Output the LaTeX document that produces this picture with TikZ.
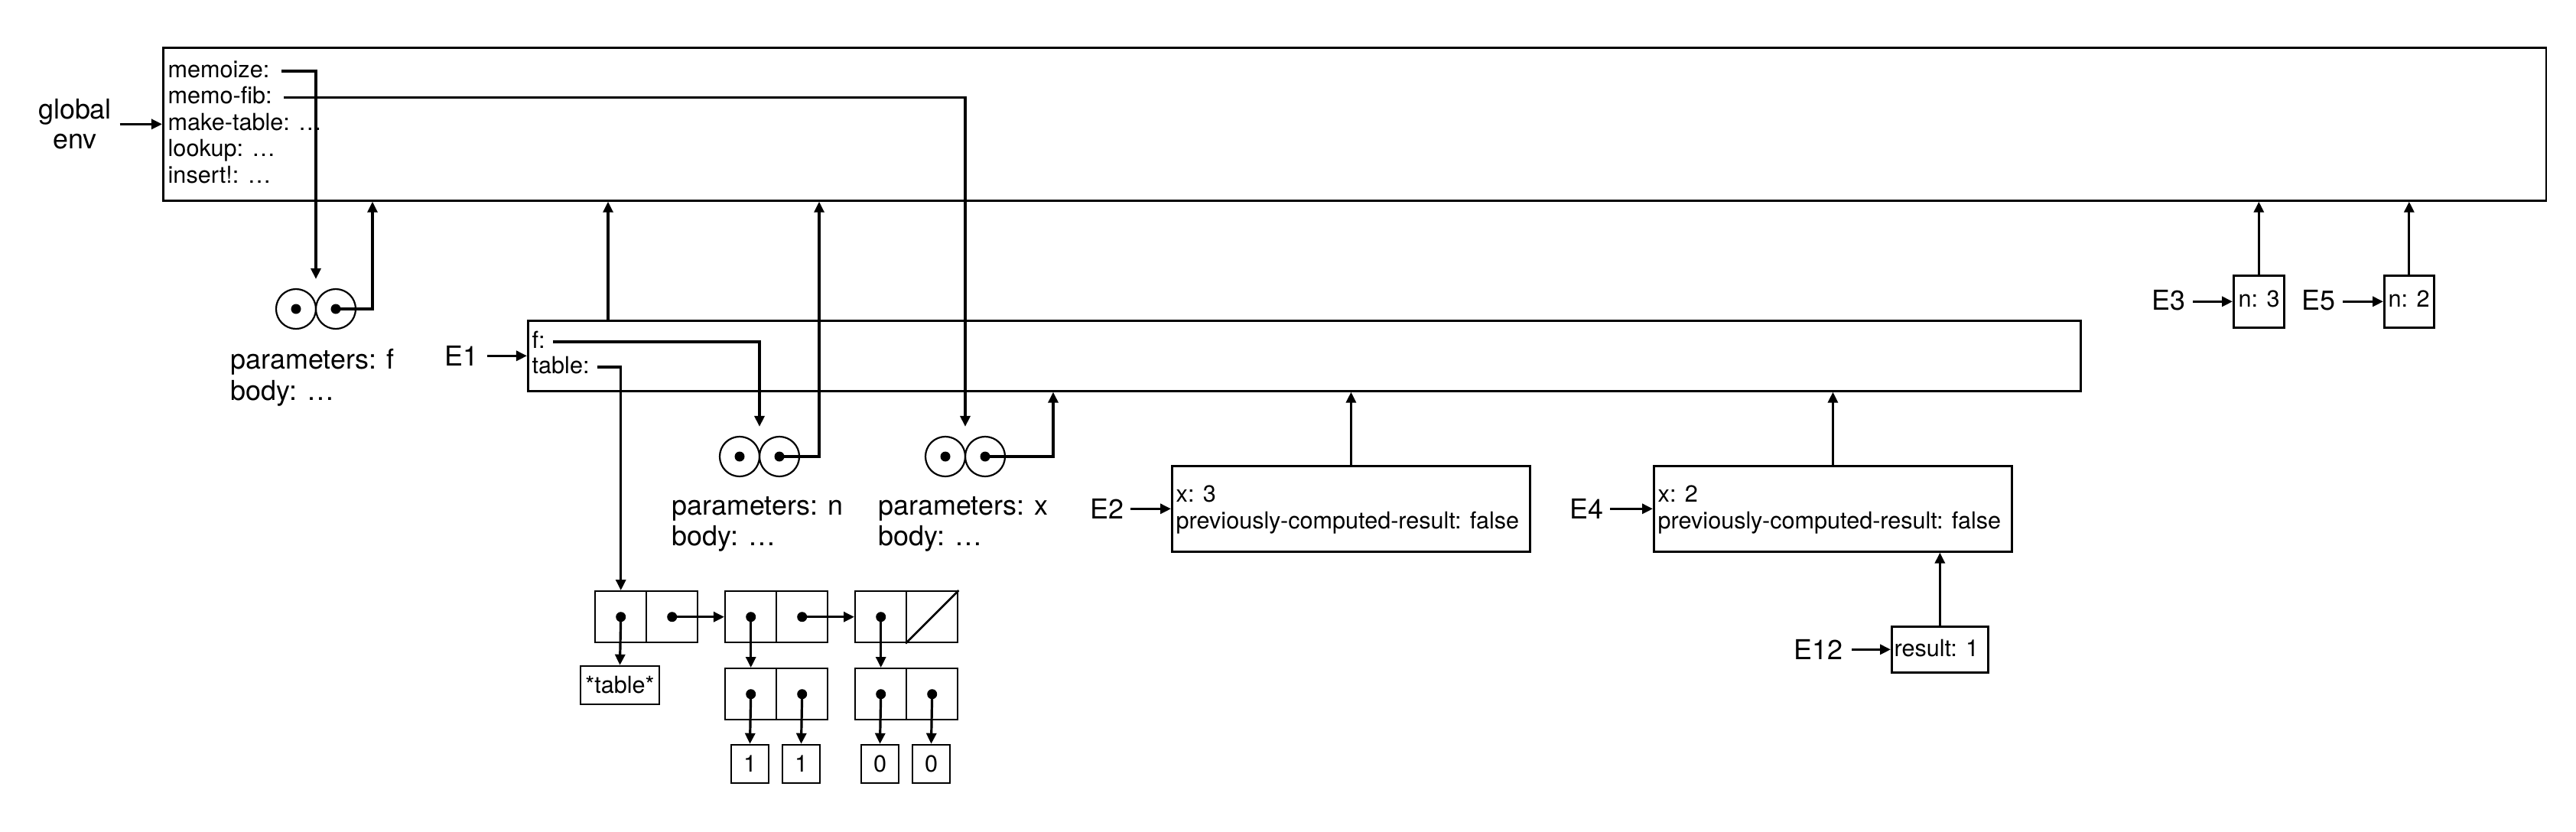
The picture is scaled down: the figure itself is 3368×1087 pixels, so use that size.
\documentclass[tikz,border=0pt]{standalone}
\usepackage{fontspec}
\setmainfont{TeX Gyre Heros}
\usetikzlibrary{arrows.meta,calc}
\begin{document}
\begin{tikzpicture}[x=0.01cm,y=-0.01cm,
  frm/.style={draw,line width=0.026cm,inner sep=0,anchor=north west},
  ftxt/.style={anchor=base west,inner sep=0,font=\fontsize{8.7}{10}\selectfont},
  lab/.style={inner sep=0,font=\fontsize{10.2}{12}\selectfont},
  conn/.style={line width=0.032cm,-{Triangle[length=0.14cm,width=0.13cm]}},
  eye/.style={draw,circle,line width=0.022cm,minimum size=0.52cm,inner sep=0},
  cell/.style={draw,line width=0.024cm,minimum width=0.67cm,minimum height=0.67cm,inner sep=0,anchor=north west},
  valbox/.style={draw,line width=0.024cm,minimum width=0.49cm,minimum height=0.5cm,inner sep=0,font=\fontsize{8.7}{10}\selectfont}
]
\useasboundingbox (0,0) rectangle (3368,1087);

% ---------- frames ----------
\node[frm,minimum width=31.14cm,minimum height=2.00cm] (fG) at (212,61) {};
\node[frm,minimum width=20.29cm,minimum height=0.92cm] (fE1) at (689,418) {};
\node[frm,minimum width=4.68cm,minimum height=1.12cm] (fE2) at (1531,608) {};
\node[frm,minimum width=4.68cm,minimum height=1.12cm] (fE4) at (2161,608) {};
\node[frm,minimum width=1.26cm,minimum height=0.60cm] (fE12) at (2472,818) {};
\node[frm,minimum width=0.66cm,minimum height=0.68cm] (fE3) at (2919,359) {};
\node[frm,minimum width=0.65cm,minimum height=0.68cm] (fE5) at (3116,359) {};

% ---------- frame texts ----------
\node[ftxt] (tmemoize) at (219,101) {memoize:};
\node[ftxt] (tmemofib) at (219,135.5) {memo-fib:};
\node[ftxt] (tmake) at (219,170) {make-table: …};
\node[ftxt] (tlookup) at (219,204.5) {lookup: …};
\node[ftxt] (tinsert) at (219,239) {insert!: …};

\node[ftxt] (tf) at (695,455) {f:};
\node[ftxt] (ttable) at (695,488) {table:};

\node[ftxt] (tx3) at (1537,656) {x: 3};
\node[ftxt] (tpc2) at (1537,691) {previously-computed-result: false};
\node[ftxt] (tx2) at (2167,656) {x: 2};
\node[ftxt] (tpc4) at (2167,691) {previously-computed-result: false};

\node[ftxt] (tres) at (2476,858) {result: 1};
\node[ftxt] (tn3) at (2926,401) {n: 3};
\node[ftxt] (tn2) at (3122,401) {n: 2};

% ---------- labels ----------
\node[lab,anchor=base] (lglobal) at (98,155) {global};
\node[lab,anchor=base] (lenv) at (98,194) {env};
\node[lab,anchor=east] (lE1) at (626,465) {E1};
\node[lab,anchor=east] (lE2) at (1470,665) {E2};
\node[lab,anchor=east] (lE4) at (2097,665) {E4};
\node[lab,anchor=east] (lE12) at (2410,849) {E12};
\node[lab,anchor=east] (lE3) at (2858,393) {E3};
\node[lab,anchor=east] (lE5) at (3054,393) {E5};

\node[lab,anchor=base west] (pfp) at (301,482) {parameters: f};
\node[lab,anchor=base west] (pfb) at (301,523) {body: …};
\node[lab,anchor=base west] (pnp) at (878,673) {parameters: n};
\node[lab,anchor=base west] (pnb) at (878,713) {body: …};
\node[lab,anchor=base west] (pxp) at (1148,673) {parameters: x};
\node[lab,anchor=base west] (pxb) at (1148,713) {body: …};

% ---------- procedure objects ----------
\node[eye] (pf1) at (387,404) {};
\node[eye] (pf2) at (439,404) {};
\node[eye] (pn1) at (967,597) {};
\node[eye] (pn2) at (1019,597) {};
\node[eye] (px1) at (1236,597) {};
\node[eye] (px2) at (1288,597) {};
\foreach \p in {pf1,pf2,pn1,pn2,px1,px2} \fill (\p.center) circle (0.065cm);
\coordinate (pfT) at ($(pf1.north)!0.5!(pf2.north)+(0,-12)$);
\coordinate (pnT) at ($(pn1.north)!0.5!(pn2.north)+(0,-12)$);
\coordinate (pxT) at ($(px1.north)!0.5!(px2.north)+(0,-12)$);

% ---------- list structure ----------
\node[cell] (c1a) at (777,772) {};
\node[cell] (c1d) at (844,772) {};
\node[cell] (c2a) at (947,772) {};
\node[cell] (c2d) at (1014,772) {};
\node[cell] (c3a) at (1117,772) {};
\node[cell] (c3d) at (1184,772) {};
\node[cell] (c4a) at (947,873) {};
\node[cell] (c4d) at (1014,873) {};
\node[cell] (c5a) at (1117,873) {};
\node[cell] (c5d) at (1184,873) {};
\draw[line width=0.026cm] (c3d.south west) -- (c3d.north east);
\node[draw,line width=0.024cm,minimum width=1.03cm,minimum height=0.5cm,inner sep=0,font=\fontsize{8.7}{10}\selectfont] (tab) at (810.5,896) {*table*};
\node[valbox] (b1) at (980.5,999) {1};
\node[valbox] (b2) at (1047.5,999) {1};
\node[valbox] (b3) at (1150.5,999) {0};
\node[valbox] (b4) at (1217.5,999) {0};
\foreach \c in {c1a,c1d,c2a,c2d,c3a,c4a,c4d,c5a,c5d} \fill (\c.center) circle (0.065cm);

% ---------- connectors ----------
\draw[conn] ($(lglobal.east |- fG.west)+(10,0)$) -- (fG.west);
\draw[conn] ($(lE1.east |- fE1.west)+(11,0)$) -- (fE1.west);
\draw[conn] ($(lE2.east |- fE2.west)+(8,0)$) -- (fE2.west);
\draw[conn] ($(lE4.east |- fE4.west)+(8,0)$) -- (fE4.west);
\draw[conn] ($(lE12.east |- fE12.west)+(11,0)$) -- (fE12.west);
\draw[conn] ($(lE3.east |- fE3.west)+(9,0)$) -- (fE3.west);
\draw[conn] ($(lE5.east |- fE5.west)+(9,0)$) -- (fE5.west);

\draw[conn] ($(tmemoize.base east)+(15,-8)$) -| (pfT);
\draw[conn] ($(tmemofib.base east)+(15,-8)$) -| (pxT);
\draw[conn] ($(tf.base east)+(10,-8)$) -| (pnT);
\draw[conn] ($(ttable.base east)+(10,-8)$) -| (c1a.north);

\draw[conn] (pf2.center) -| ($(fG.south west)+(275,0)$);
\draw[conn] (pn2.center) -| ($(fG.south west)+(859,0)$);
\draw[conn] (px2.center) -| ($(fE1.south west)+(688,0)$);
\draw[conn] ($(fE1.north west)+(106,0)$) -- ($(fG.south west)+(583,0)$);
\draw[conn] (fE2.north) -- (fE2.north |- fE1.south);
\draw[conn] (fE4.north) -- (fE4.north |- fE1.south);
\draw[conn] (fE12.north) -- (fE12.north |- fE4.south);
\draw[conn] (fE3.north) -- (fE3.north |- fG.south);
\draw[conn] (fE5.north) -- (fE5.north |- fG.south);

\draw[conn] (c1a.center) -- (tab.north);
\draw[conn] (c1d.center) -- (c2a.west);
\draw[conn] (c2a.center) -- (c4a.north);
\draw[conn] (c2d.center) -- (c3a.west);
\draw[conn] (c3a.center) -- (c5a.north);
\draw[conn] (c4a.center) -- (b1.north);
\draw[conn] (c4d.center) -- (b2.north);
\draw[conn] (c5a.center) -- (b3.north);
\draw[conn] (c5d.center) -- (b4.north);
\end{tikzpicture}
\end{document}
